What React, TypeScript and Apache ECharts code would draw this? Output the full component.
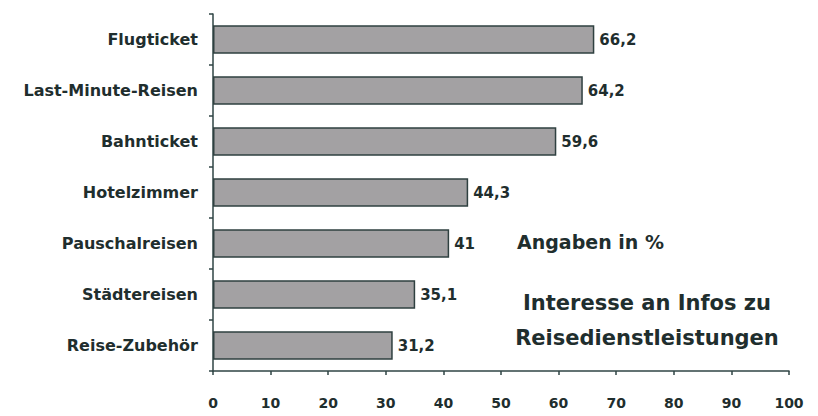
import React, { useEffect, useRef } from "react";
import * as echarts from "echarts";

const categories = ["Flugticket", "Last-Minute-Reisen", "Bahnticket", "Hotelzimmer", "Pauschalreisen", "Städtereisen", "Reise-Zubehör"];
const values = [66.2, 64.2, 59.6, 44.3, 41, 35.1, 31.2];
const valueLabels = ["66,2", "64,2", "59,6", "44,3", "41", "35,1", "31,2"];
const xTicks = [0, 10, 20, 30, 40, 50, 60, 70, 80, 90, 100];

const TEXT = "#1f2e2e";
const FONT = "'DejaVu Sans', sans-serif";

export default function App() {
  const ref = useRef<HTMLDivElement>(null);
  useEffect(() => {
    if (!ref.current) return;
    const chart = echarts.init(ref.current, null, { renderer: "svg" });
    chart.setOption({
      animation: false,
      backgroundColor: "#ffffff",
      grid: { left: 213, right: 29, top: 14, bottom: 45, containLabel: false },
      xAxis: {
        type: "value",
        min: xTicks[0],
        max: xTicks[xTicks.length - 1],
        interval: 10,
        splitLine: { show: false },
        axisLine: { show: true, lineStyle: { color: "#2f4444", width: 1.5 } },
        axisTick: { show: true, length: 4, lineStyle: { color: "#2f4444", width: 1.5 } },
        axisLabel: { color: TEXT, fontFamily: FONT, fontWeight: "bold", fontSize: 14, margin: 25 },
      },
      yAxis: {
        type: "category",
        data: categories,
        inverse: true,
        axisLine: { show: true, lineStyle: { color: "#2f4444", width: 1.5 } },
        axisTick: { show: true, length: 4, lineStyle: { color: "#2f4444", width: 1.5 } },
        axisLabel: { color: TEXT, fontFamily: FONT, fontWeight: "bold", fontSize: 16, margin: 15 },
      },
      series: [
        {
          type: "bar",
          data: values,
          barWidth: "56%",
          itemStyle: { color: "#a3a1a3", borderColor: "#2f4040", borderWidth: 1.5 },
          label: {
            show: true,
            position: "right",
            distance: 5,
            color: TEXT,
            fontFamily: FONT,
            fontWeight: "bold",
            fontSize: 15,
            formatter: (p: any) => valueLabels[p.dataIndex],
          },
        },
      ],
      graphic: [
        {
          type: "text",
          x: 517,
          y: 242,
          style: { text: "Angaben in %", fill: TEXT, font: "bold 19px 'DejaVu Sans', sans-serif", verticalAlign: "middle" },
        },
        {
          type: "text",
          x: 647,
          y: 320,
          style: {
            text: "Interesse an Infos zu\nReisedienstleistungen",
            fill: TEXT,
            font: "bold 21px 'DejaVu Sans', sans-serif",
            align: "center",
            verticalAlign: "middle",
            lineHeight: 35,
          },
        },
      ],
    });
    return () => chart.dispose();
  }, []);
  return <div ref={ref} style={{ width: 818, height: 416, position: "absolute", left: 0, top: 0 }} />;
}
